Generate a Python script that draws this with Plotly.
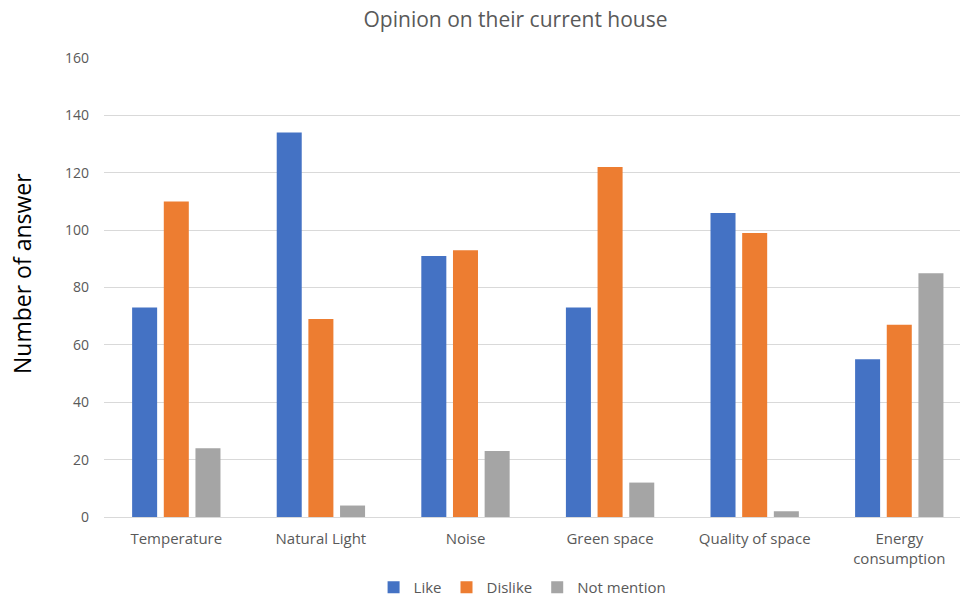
import plotly.graph_objects as go

categories = ["Temperature", "Natural Light", "Noise", "Green space",
              "Quality of space", "Energy<br>consumption"]
like = [73, 134, 91, 73, 106, 55]
dislike = [110, 69, 93, 122, 99, 67]
not_mention = [24, 4, 23, 12, 2, 85]

series = [
    ("Like", like, "#4472C4"),
    ("Dislike", dislike, "#ED7D31"),
    ("Not mention", not_mention, "#A5A5A5"),
]

fig = go.Figure()
for name, vals, color in series:
    fig.add_trace(go.Bar(x=categories, y=vals, name=name,
                         marker=dict(color=color, line=dict(width=0))))

# y-axis title placed as a rotated annotation
fig.add_annotation(text="Number of answer", xref="paper", yref="paper",
                   x=-0.0958, y=0.5316, xanchor="center", yanchor="middle",
                   textangle=-90, showarrow=False,
                   font=dict(size=23, color="black"))

fig.update_layout(
    width=960, height=600,
    paper_bgcolor="white", plot_bgcolor="white",
    margin=dict(l=104, r=0, t=58, b=83, autoexpand=False),
    font=dict(family="Open Sans, sans-serif", color="#595959", size=15),
    title=dict(text="Opinion on their current house", x=0.537, xanchor="center",
               y=0.967, yanchor="middle",
               font=dict(size=21, color="#595959")),
    barmode="group", bargap=0.343, bargroupgap=0.21,
    legend=dict(orientation="h", x=0.489, xanchor="center",
                yref="container", y=0.021, yanchor="middle",
                font=dict(size=15, color="#595959"),
                itemwidth=30, traceorder="normal"),
    xaxis=dict(range=[-0.5, 5.42], showgrid=False, showline=True,
               linecolor="#D9D9D9", linewidth=1, ticks="",
               ticklabelstandoff=8,
               tickfont=dict(size=15, color="#595959")),
    yaxis=dict(range=[0, 160], dtick=20, showgrid=True, gridcolor="#D9D9D9",
               gridwidth=1, zeroline=False, ticks="", ticklabelstandoff=14,
               tickfont=dict(size=14, color="#595959")),
)

fig.write_html("out.html")
